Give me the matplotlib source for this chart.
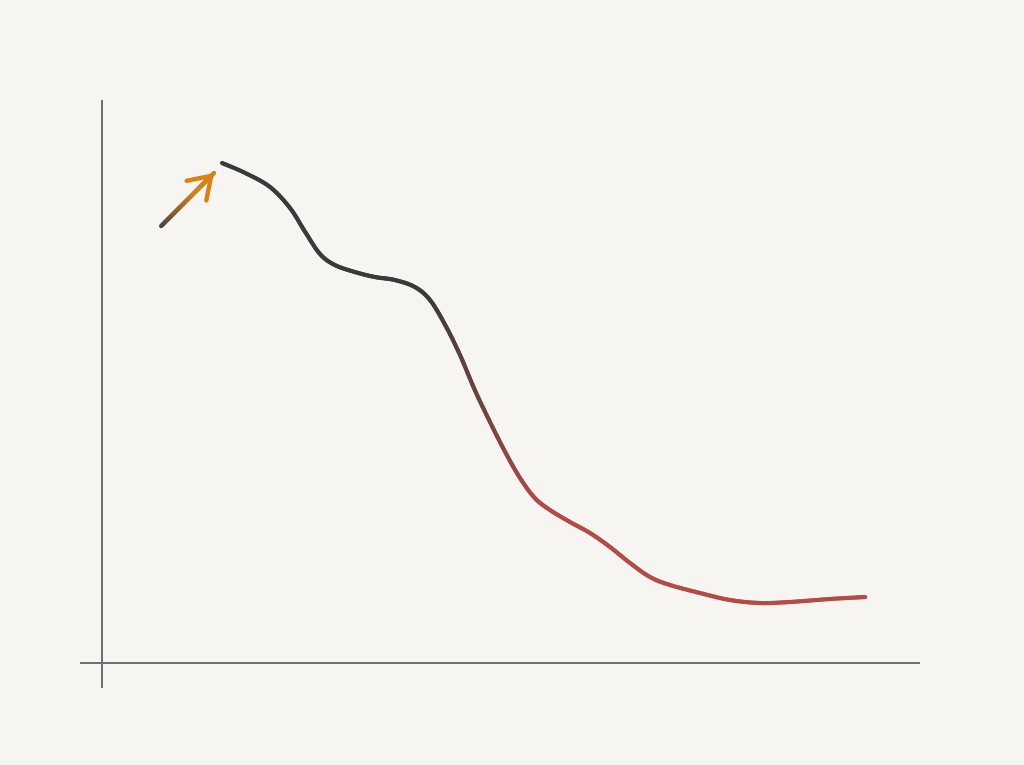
import numpy as np
import matplotlib
matplotlib.use("Agg")
import matplotlib.pyplot as plt
from matplotlib.collections import LineCollection
from matplotlib.colors import to_rgb
from matplotlib.patches import FancyArrowPatch

# main curve
x_vals = [15.0, 17.9, 21.0, 23.5, 25.4, 27.25, 29.1, 31.6, 34.1, 36.6, 39.1, 41.0,
          42.9, 44.75, 46.6, 48.5, 50.4, 52.25, 54.1, 56.0, 58.5, 61.0, 63.5, 66.0,
          68.5, 71.0, 74.75, 78.5, 82.25, 86.0, 91.0, 95.4]
y_vals = [100.0, 98.0, 95.2, 91.0, 86.2, 81.8, 79.6, 78.2, 77.2, 76.6, 75.2, 72.6,
          67.6, 61.6, 54.6, 48.2, 42.2, 37.0, 33.0, 30.6, 28.2, 26.0, 23.2, 20.0,
          17.2, 15.6, 14.0, 12.6, 12.0, 12.2, 12.8, 13.2]

# short arrow before the curve
arrow_start = (7.4, 87.4)
arrow_end = (14.0, 98.0)

bg = "#f6f5f1"
dark = "#3a3a3a"
red = "#b34c47"
orange = "#d98210"
axis_col = "#6e6e6e"

fig = plt.figure(figsize=(10.24, 7.65), dpi=100, facecolor=bg)
ax = fig.add_axes([0, 0, 1, 1])
ax.set_facecolor(bg)
ax.set_xlim(-12.75, 115.25)
ax.set_ylim(-20.4, 132.6)
ax.axis("off")

# axes lines
ax.plot([0, 0], [-5, 112.6], color=axis_col, lw=1.4, solid_capstyle="butt")
ax.plot([-2.75, 102.25], [0, 0], color=axis_col, lw=1.4, solid_capstyle="butt")


def blend(c1, c2, t):
    a, b = np.array(to_rgb(c1)), np.array(to_rgb(c2))
    return tuple(a + (b - a) * t)


def smooth_path(xs, ys, sub=12):
    # catmull-rom through the read points, only for drawing a smooth stroke
    p = np.column_stack([xs, ys])
    p = np.vstack([p[0], p, p[-1]])
    out = []
    for i in range(1, len(p) - 2):
        p0, p1, p2, p3 = p[i - 1], p[i], p[i + 1], p[i + 2]
        for t in np.linspace(0, 1, sub, endpoint=False):
            t2, t3 = t * t, t * t * t
            out.append(0.5 * ((2 * p1) + (-p0 + p2) * t +
                              (2 * p0 - 5 * p1 + 4 * p2 - p3) * t2 +
                              (-p0 + 3 * p1 - 3 * p2 + p3) * t3))
    out.append(p[-2])
    return np.array(out)


pts = smooth_path(np.array(x_vals), np.array(y_vals))
segs = np.stack([pts[:-1], pts[1:]], axis=1)
mids = (pts[:-1, 0] + pts[1:, 0]) / 2
cols = [blend(dark, red, np.clip((m - 41) / 14, 0, 1)) for m in mids]
lc = LineCollection(segs, colors=cols, linewidths=3.0, capstyle="round", joinstyle="round")
ax.add_collection(lc)

# arrow shaft with gradient
n = 30
sx = np.linspace(arrow_start[0], arrow_end[0], n)
sy = np.linspace(arrow_start[1], arrow_end[1], n)
apts = np.column_stack([sx, sy])
asegs = np.stack([apts[:-1], apts[1:]], axis=1)
acols = [blend("#4a4444", orange, min(1, i / (n * 0.6))) for i in range(n - 1)]
ax.add_collection(LineCollection(asegs, colors=acols, linewidths=3.2, capstyle="round"))

head = FancyArrowPatch(posA=(sx[-10], sy[-10]), posB=arrow_end,
                       arrowstyle="->,head_length=15,head_width=10",
                       color=orange, lw=3.2, capstyle="round", joinstyle="miter",
                       shrinkA=0, shrinkB=0)
ax.add_patch(head)

fig.savefig("out.png", dpi=100, facecolor=bg)
